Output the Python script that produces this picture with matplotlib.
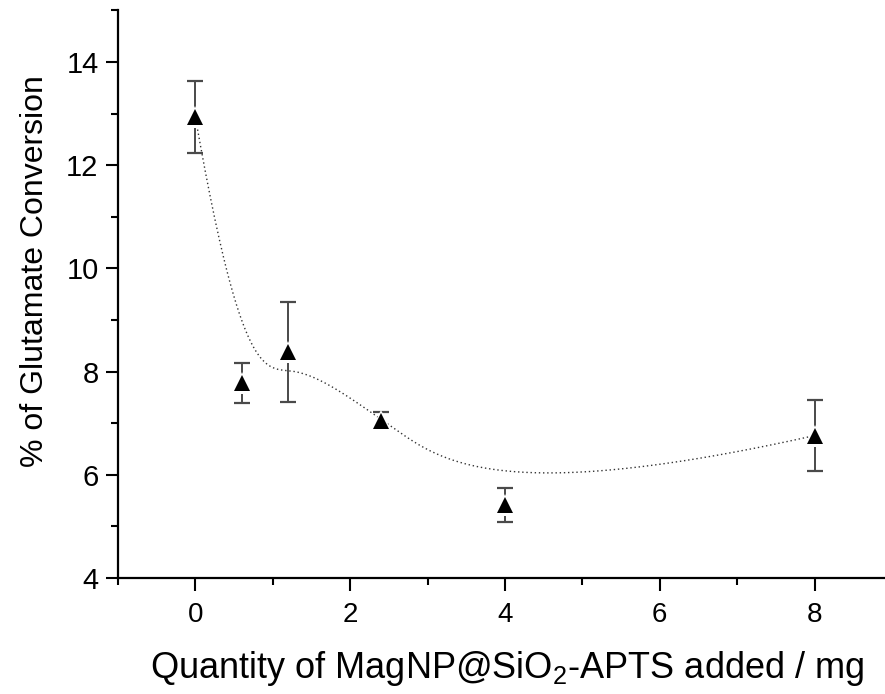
import numpy as np
import matplotlib
matplotlib.use("Agg")
import matplotlib.pyplot as plt
from matplotlib.ticker import MultipleLocator

# Data
quantity_mg = [0.0, 0.6, 1.2, 2.4, 4.0, 8.0]
conversion_pct = [12.93, 7.78, 8.38, 7.05, 5.42, 6.76]
conversion_err = [0.70, 0.39, 0.96, 0.17, 0.33, 0.69]

x_ticks = [0, 2, 4, 6, 8]
y_ticks = [4, 6, 8, 10, 12, 14]


def bspline(px, py, degree=3, n=400):
    """Clamped uniform B-spline with the data points as control points."""
    px = np.asarray(px, float)
    py = np.asarray(py, float)
    m = len(px)
    inner = np.linspace(0, 1, m - degree + 1)
    knots = np.concatenate([[0] * degree, inner, [1] * degree])
    t = np.linspace(0, 1, n)

    def basis(i, k, tt):
        if k == 0:
            b = ((knots[i] <= tt) & (tt < knots[i + 1])).astype(float)
            if knots[i + 1] == 1.0 and knots[i] < 1.0:
                b[tt == 1.0] = 1.0
            return b
        out = np.zeros_like(tt)
        d1 = knots[i + k] - knots[i]
        if d1 > 0:
            out += (tt - knots[i]) / d1 * basis(i, k - 1, tt)
        d2 = knots[i + k + 1] - knots[i + 1]
        if d2 > 0:
            out += (knots[i + k + 1] - tt) / d2 * basis(i + 1, k - 1, tt)
        return out

    N = np.array([basis(i, degree, t) for i in range(m)])
    return N.T @ px, N.T @ py


plt.rcParams['font.family'] = ['Liberation Sans', 'DejaVu Sans']
plt.rcParams['mathtext.fontset'] = 'custom'
plt.rcParams['mathtext.rm'] = 'Liberation Sans'
plt.rcParams['mathtext.default'] = 'regular'

fig = plt.figure(figsize=(8.85, 6.94), dpi=100)
ax = fig.add_axes([118 / 885, 116 / 694, 774 / 885, 567.6 / 694])

sx, sy = bspline(quantity_mg, conversion_pct)
ax.plot(sx, sy, linestyle=(0, (1, 2)), color='#333333', linewidth=1.0, zorder=2)

ax.errorbar(quantity_mg, conversion_pct, yerr=conversion_err, fmt='none',
            ecolor='#4a4a4a', elinewidth=1.4, capsize=5.5, capthick=1.6, zorder=3)
ax.plot(quantity_mg, conversion_pct, linestyle='none', marker='^',
        markersize=15.5, color='white', markeredgewidth=0, zorder=4)
ax.plot(quantity_mg, conversion_pct, linestyle='none', marker='^',
        markersize=12, color='black', markeredgewidth=0, zorder=5)

ax.set_xlim(-1, 9)
ax.set_ylim(4, 15)
ax.set_xticks(x_ticks)
ax.set_yticks(y_ticks)
ax.xaxis.set_minor_locator(MultipleLocator(1))
ax.yaxis.set_minor_locator(MultipleLocator(1))

for s in ['top', 'right']:
    ax.spines[s].set_visible(False)
for s in ['left', 'bottom']:
    ax.spines[s].set_linewidth(1.6)

ax.tick_params(which='major', direction='out', length=9, width=1.5,
               labelsize=20)
ax.tick_params(axis='x', which='major', pad=8)
ax.tick_params(axis='y', which='major', pad=5, labelsize=21)
ax.tick_params(which='minor', direction='out', length=5, width=1.5)

ax.set_xlabel('Quantity of MagNP@SiO$_2$-APTS added / mg', fontsize=26)
ax.set_ylabel('% of Glutamate Conversion', fontsize=23)
ax.xaxis.set_label_coords(0.5026, -0.125)
ax.yaxis.set_label_coords(-0.088, 0.54)

fig.savefig('out.png', dpi=100)
